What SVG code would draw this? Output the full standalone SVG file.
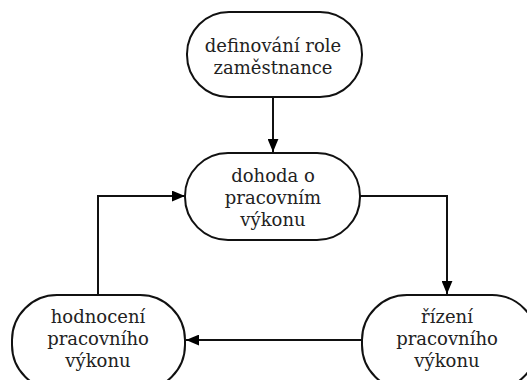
<svg xmlns="http://www.w3.org/2000/svg" width="527" height="380" viewBox="0 0 527 380">
<defs>
<style>
.n{fill:#fff;stroke:#111;stroke-width:2}
.c{fill:none;stroke:#111;stroke-width:2}
.t{font-family:"DejaVu Serif","Liberation Serif",serif;font-size:18px;fill:#222;text-anchor:middle}
</style>
<marker id="a" viewBox="0 0 12 10" refX="12" refY="5" markerWidth="13" markerHeight="11" markerUnits="userSpaceOnUse" orient="auto">
<path d="M0,0L12,5L0,10z" fill="#000"/>
</marker>
</defs>
<rect width="527" height="380" fill="#fff"/>
<g id="connectors">
<path class="c" d="M273,97V152" marker-end="url(#a)"/>
<path class="c" d="M360,196H447V294" marker-end="url(#a)"/>
<path class="c" d="M362,340H186" marker-end="url(#a)"/>
<path class="c" d="M98,295V196H185" marker-end="url(#a)"/>
</g>
<g id="n1"><rect class="n" x="187" y="12" width="175" height="85" rx="42"/>
<text class="t" x="273" y="52">definování role</text><text class="t" x="273" y="74">zaměstnance</text></g>
<g id="n2"><rect class="n" x="185" y="153" width="175" height="87" rx="43"/>
<text class="t" x="273" y="182">dohoda o</text><text class="t" x="273" y="204">pracovním</text><text class="t" x="273" y="226">výkonu</text></g>
<g id="n3"><rect class="n" x="12" y="295" width="173" height="95" rx="45"/>
<text class="t" x="98" y="323">hodnocení</text><text class="t" x="98" y="345">pracovního</text><text class="t" x="98" y="367">výkonu</text></g>
<g id="n4"><rect class="n" x="362" y="295" width="175" height="95" rx="45"/>
<text class="t" x="447" y="323">řízení</text><text class="t" x="447" y="345">pracovního</text><text class="t" x="447" y="367">výkonu</text></g>
</svg>
